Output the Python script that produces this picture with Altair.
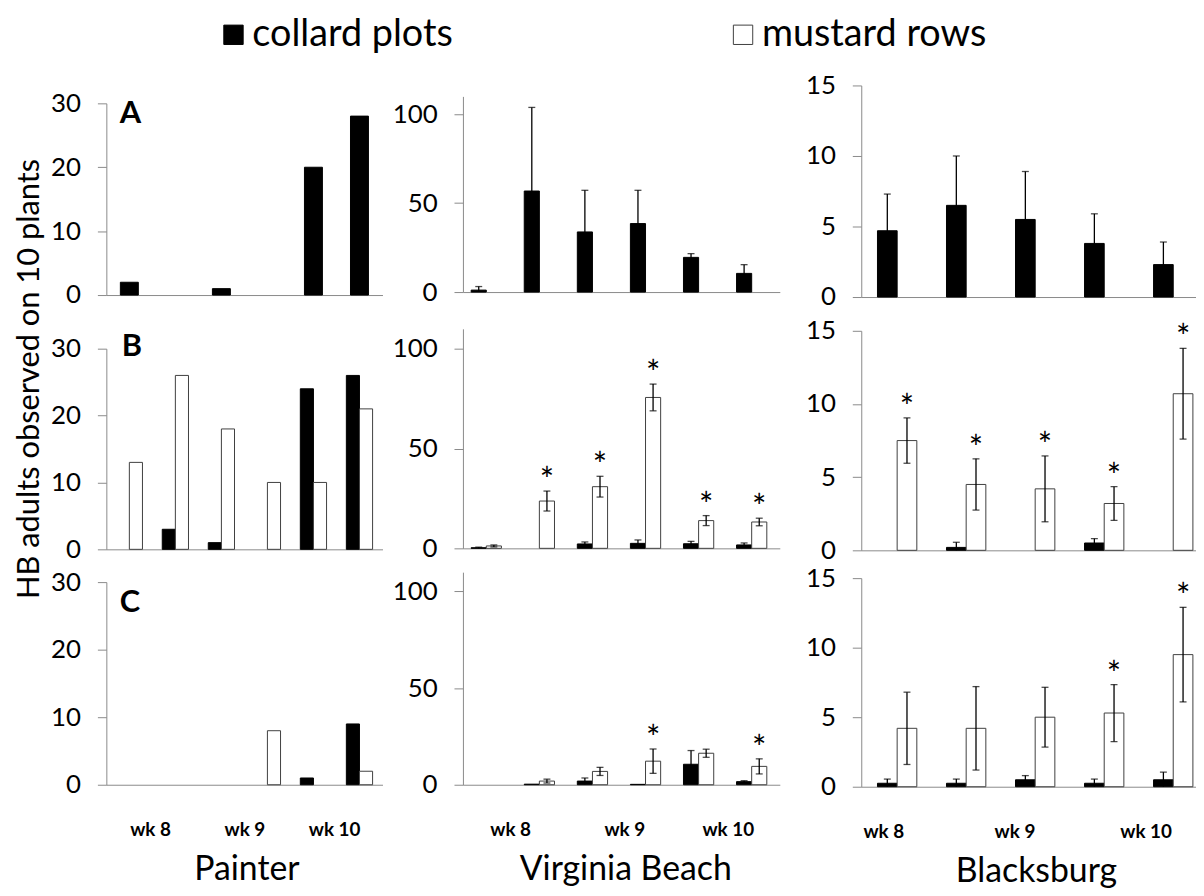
import altair as alt
import pandas as pd

FONT = "Lato"
GRAY = "#8a8a8a"
series = ["collard plots", "mustard rows"]
week_labels = ["wk 8", "wk 9", "wk 10"]

# ---------------- Painter (6 sampling dates, no error bars) ----------------
pA_col = [2, 0, 1, 0, 20, 28]
pB_col = [0, 3, 1, 0, 24, 26]
pB_mus = [13, 26, 18, 10, 10, 21]
pC_col = [0, 0, 0, 0, 1, 9]
pC_mus = [0, 0, 0, 8, 0, 2]
p_week_pos = [1.45, 3.5, 5.45]

# ---------------- Virginia Beach (6 sampling dates) ----------------
vA_col = [1.1, 56.8, 33.8, 38.5, 19.5, 10.5]
vA_col_se = [2.0, 47.0, 23.4, 18.7, 2.1, 4.9]
vB_col = [0.3, 0, 2.2, 2.5, 2.3, 1.7]
vB_col_se = [0.3, 0, 1.0, 1.7, 1.2, 1.0]
vB_mus = [1.2, 23.7, 30.9, 75.6, 13.9, 13.2]
vB_mus_se = [0.5, 5.0, 5.2, 6.7, 2.5, 1.9]
vB_sig = [False, True, True, True, True, True]
vC_col = [0, 0.3, 1.9, 0.2, 10.6, 1.6]
vC_col_se = [0, 0, 1.6, 0, 7.1, 0.5]
vC_mus = [0, 1.9, 6.9, 12.2, 16.3, 9.5]
vC_mus_se = [0, 1.0, 2.1, 6.3, 2.1, 3.9]
vC_sig = [False, False, False, True, False, True]
v_week_pos = [1.45, 3.6, 5.55]

# ---------------- Blacksburg (5 sampling dates) ----------------
bA_col = [4.7, 6.5, 5.5, 3.8, 2.3]
bA_col_se = [2.6, 3.5, 3.4, 2.1, 1.6]
bB_col = [0, 0.2, 0, 0.5, 0]
bB_col_se = [0, 0.35, 0, 0.3, 0]
bB_mus = [7.5, 4.5, 4.2, 3.2, 10.7]
bB_mus_se = [1.55, 1.75, 2.25, 1.15, 3.1]
bB_sig = [True, True, True, True, True]
bC_col = [0.25, 0.25, 0.5, 0.25, 0.5]
bC_col_se = [0.3, 0.3, 0.3, 0.3, 0.55]
bC_mus = [4.2, 4.2, 5.0, 5.3, 9.5]
bC_mus_se = [2.6, 3.0, 2.15, 2.05, 3.4]
bC_sig = [False, False, False, True, True]
b_week_pos = [0.8, 2.7, 4.6]

BW = 0.285      # bar width in category units (grouped)
SW = 0.195      # half width of the single centred bar (Painter A)


def make_df(col, col_se=None, mus=None, mus_se=None, sig=None, single=False):
    rows = []
    n = len(col)
    for i in range(n):
        idx = i + 1
        se = col_se[i] if col_se else 0
        if single:
            x0, x1 = idx - SW, idx + SW
        else:
            x0, x1 = idx - BW, idx
        rows.append(dict(series=series[0], value=col[i], x0=x0, x1=x1,
                         xc=(x0 + x1) / 2, se=se, lo=max(0, col[i] - se),
                         hi=col[i] + se, sig=False))
        if mus is not None:
            se = mus_se[i] if mus_se else 0
            rows.append(dict(series=series[1], value=mus[i], x0=idx,
                             x1=idx + BW, xc=idx + BW / 2, se=se,
                             lo=max(0, mus[i] - se), hi=mus[i] + se,
                             sig=bool(sig[i]) if sig else False))
    return pd.DataFrame(rows)


fill_enc = alt.Fill(
    "series:N",
    scale=alt.Scale(domain=series, range=["#000000", "#ffffff"]),
    legend=alt.Legend(title=None, orient="none", legendX=109, legendY=-36,
                      direction="horizontal", symbolType="square",
                      symbolSize=380, symbolStrokeColor="#404040",
                      symbolStrokeWidth=1,
                      labelFont=FONT, labelFontSize=38, labelColor="black",
                      labelOffset=0, labelLimit=0, columnPadding=273,
                      padding=0),
)
stroke_enc = alt.Stroke(
    "series:N",
    scale=alt.Scale(domain=series, range=["#000000", "#404040"]),
    legend=None,
)


def panel(df, ydom, yticks, width, height, xdom, week_pos, show_x,
          letter=None, letter_pos=(13, 19), ytitle=None, err=False):
    lbl_expr = " : ".join(
        f"datum.value == {p} ? '{l}'" for p, l in zip(week_pos, week_labels)
    ) + " : ''"
    xaxis_kw = dict(values=week_pos, labelExpr=lbl_expr, labels=show_x,
                    ticks=False, grid=False, domainColor=GRAY,
                    labelFont=FONT, labelFontWeight="bold", labelFontSize=19,
                    labelColor="black", labelPadding=36,
                    labelOverlap=False, labelFlush=False, labelBound=False)
    if letter:
        xaxis = alt.Axis(title=letter, titleFont=FONT, titleFontSize=31,
                         titleFontWeight="bold", titleColor="black",
                         titleX=letter_pos[0], titleY=letter_pos[1] - height,
                         titleAlign="left", titleBaseline="middle",
                         titleAngle=0, **xaxis_kw)
    else:
        xaxis = alt.Axis(title=None, **xaxis_kw)
    yaxis_kw = dict(values=yticks, grid=False, domainColor=GRAY,
                    tickColor=GRAY, tickSize=9, labelFont=FONT,
                    labelFontSize=26, labelColor="black", labelPadding=17)
    if ytitle:
        yaxis = alt.Axis(title=ytitle, titleFont=FONT, titleFontSize=31,
                         titleFontWeight="normal", titleColor="black",
                         titleX=-92, titleY=30, titleBaseline="top",
                         titleAlign="center", titleAngle=270, **yaxis_kw)
    else:
        yaxis = alt.Axis(title=None, **yaxis_kw)
    xs = alt.Scale(domain=xdom, nice=False, zero=False)
    ys = alt.Scale(domain=ydom, nice=False)
    base = alt.Chart(df)
    bars = base.transform_filter("datum.value > 0").mark_bar(
        strokeWidth=1).encode(
        x=alt.X("x0:Q", scale=xs, axis=xaxis),
        x2="x1:Q",
        y=alt.Y("value:Q", scale=ys, axis=yaxis),
        y2=alt.datum(0),
        fill=fill_enc,
        stroke=stroke_enc,
    )
    layers = [bars]
    if err:
        e = base.transform_filter("datum.se > 0")
        layers.append(e.mark_rule(color="black", strokeWidth=1.3).encode(
            x=alt.X("xc:Q"), y=alt.Y("lo:Q"), y2="hi:Q"))
        layers.append(e.mark_tick(orient="horizontal", size=7, thickness=1.3,
                                  color="black").encode(
            x=alt.X("xc:Q"), y=alt.Y("hi:Q")))
        layers.append(base.transform_filter(
            "datum.se > 0 && datum.series == 'mustard rows'").mark_tick(
            orient="horizontal", size=7, thickness=1.3, color="black").encode(
            x=alt.X("xc:Q"), y=alt.Y("lo:Q")))
        layers.append(base.transform_filter("datum.sig").mark_text(
            text="*", font=FONT, fontSize=34, color="#000000",
            baseline="alphabetic", dy=1).encode(
            x=alt.X("xc:Q"), y=alt.Y("hi:Q")))
    return alt.layer(*layers).properties(width=width, height=height)


def spacer(w, h):
    return alt.Chart(pd.DataFrame({"v": [0]})).mark_point(opacity=0).encode(
        x=alt.X("v:Q", axis=None), y=alt.Y("v:Q", axis=None)
    ).properties(width=w, height=h)


def column(parts, name, dx):
    return alt.vconcat(*parts, spacing=0, bounds="flush",
                       title=alt.TitleParams(text=name, orient="bottom",
                                             anchor="middle", font=FONT,
                                             fontSize=34,
                                             fontWeight="normal",
                                             color="black", offset=14,
                                             dx=dx))


PW, VW, BWID = 278, 319, 337
PX, VX, BX = [0.5, 6.5], [0.56, 6.53], [0.48, 5.33]
TOP = 32

colP = column([
    spacer(PW, TOP + 20),
    panel(make_df(pA_col, single=True), [0, 30], [0, 10, 20, 30], PW, 193,
          PX, p_week_pos, False, letter="A", letter_pos=(13, 10)),
    spacer(PW, 54),
    panel(make_df(pB_col, mus=pB_mus), [0, 30], [0, 10, 20, 30], PW, 202,
          PX, p_week_pos, False, letter="B", letter_pos=(15, -2),
          ytitle="HB adults observed on 10 plants"),
    spacer(PW, 33),
    panel(make_df(pC_col, mus=pC_mus), [0, 30], [0, 10, 20, 30], PW, 204,
          PX, p_week_pos, True, letter="C", letter_pos=(13, 21)),
], "Painter", 49)

colV = column([
    spacer(VW, TOP + 13),
    panel(make_df(vA_col, col_se=vA_col_se, mus=[0] * 6), [0, 110],
          [0, 50, 100], VW, 197, VX, v_week_pos, False, err=True),
    spacer(VW, 37),
    panel(make_df(vB_col, vB_col_se, vB_mus, vB_mus_se, vB_sig), [0, 110],
          [0, 50, 100], VW, 221, VX, v_week_pos, False, err=True),
    spacer(VW, 24),
    panel(make_df(vC_col, vC_col_se, vC_mus, vC_mus_se, vC_sig), [0, 110],
          [0, 50, 100], VW, 214, VX, v_week_pos, True, err=True),
], "Virginia Beach", 40)

colB = column([
    spacer(BWID, TOP + 2),
    panel(make_df(bA_col, col_se=bA_col_se, mus=[0] * 5), [0, 15],
          [0, 5, 10, 15], BWID, 213, BX, b_week_pos, False, err=True),
    spacer(BWID, 34),
    panel(make_df(bB_col, bB_col_se, bB_mus, bB_mus_se, bB_sig), [0, 15],
          [0, 5, 10, 15], BWID, 221, BX, b_week_pos, False, err=True),
    spacer(BWID, 28),
    panel(make_df(bC_col, bC_col_se, bC_mus, bC_mus_se, bC_sig), [0, 15],
          [0, 5, 10, 15], BWID, 210, BX, b_week_pos, True, err=True),
], "Blacksburg", 36)

G1, G2 = 9, 25
chart = alt.hconcat(colP, spacer(G1, 1), colV, spacer(G2, 1), colB,
                    spacing=0).properties(
    padding={"left": 5, "top": 5, "right": 0, "bottom": 0},
    background="white",
).configure_view(strokeWidth=0, stroke="transparent")

chart.save("out.html", embed_options={"renderer": "svg", "actions": False})
